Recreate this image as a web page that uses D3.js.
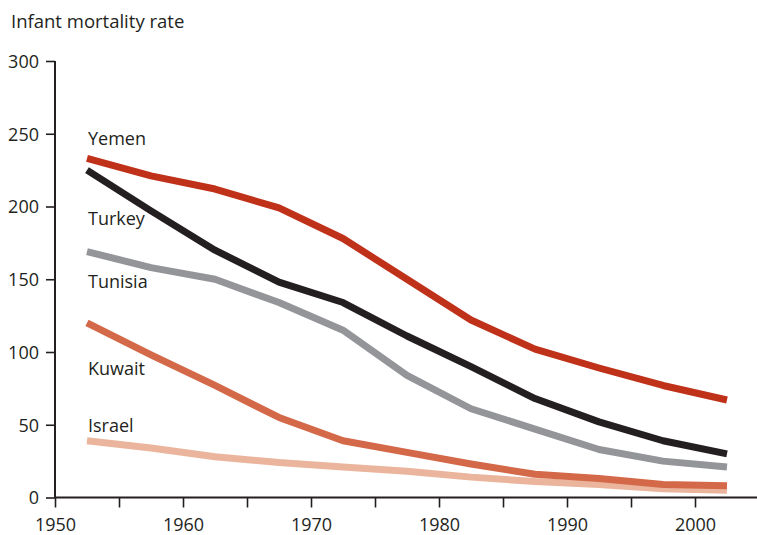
<!DOCTYPE html>
<html>
<head>
<meta charset="utf-8">
<script src="https://cdn.jsdelivr.net/npm/d3@7"></script>
<style>
  html, body { margin: 0; padding: 0; background: #fff; }
  svg { display: block; }
  text { font-family: "Open Sans", "Lato", sans-serif; fill: #231f20; }
</style>
</head>
<body>
<svg id="chart" width="757" height="535"></svg>
<script>
const years = [1952.5, 1957.5, 1962.5, 1967.5, 1972.5, 1977.5, 1982.5, 1987.5, 1992.5, 1997.5, 2002.5];
const countries = ["Yemen", "Turkey", "Tunisia", "Kuwait", "Israel"];
const yemen   = [233, 221, 212, 199, 178, 150, 122, 102, 89, 77, 67];
const turkey  = [225, 197, 170, 148, 134, 111, 90, 68, 52, 39, 30];
const tunisia = [169, 158, 150, 134, 115, 84, 61, 47, 33, 25, 21];
const kuwait  = [120, 98, 77, 55, 39, 31, 23, 16, 13, 9, 8];
const israel  = [39, 34, 28, 24, 21, 18, 14, 11, 9, 6, 5];
const yTicks = [0, 50, 100, 150, 200, 250, 300];
const xMajor = [1950, 1960, 1970, 1980, 1990, 2000];
const xMinor = [1955, 1965, 1975, 1985, 1995];
const colors = ["#c0311a", "#231f20", "#939598", "#d4694a", "#eab59c"];
const title = "Infant mortality rate";

const seriesValues = [yemen, turkey, tunisia, kuwait, israel];
// label vertical offsets (pixels) relative to first point
const labelDy = [-13, 55, 36, 52, -9];

const svg = d3.select("#chart");
const x = d3.scaleLinear().domain([1950, 2005]).range([55, 759]);
const y = d3.scaleLinear().domain([0, 300]).range([497.5, 61]);

svg.append("text").attr("x", 11).attr("y", 28).attr("font-size", 18.5).text(title);

// y axis
const yAxis = svg.append("g").attr("transform", "translate(55,0)")
  .call(d3.axisLeft(y).tickValues(yTicks).tickSize(9).tickPadding(7).tickFormat(d3.format("d")));
yAxis.select(".domain").attr("d", `M0,${y(300)}V${y(0)}`);
// x axis
const xAxis = svg.append("g").attr("transform", `translate(0,${y(0)})`)
  .call(d3.axisBottom(x).tickValues(xMajor.concat(xMinor)).tickSize(10).tickPadding(11)
    .tickFormat(d => xMajor.includes(d) ? d : ""));
xAxis.select(".domain").attr("d", `M55,0H757`);

[yAxis, xAxis].forEach(g => {
  g.select(".domain").attr("stroke", "#231f20").attr("stroke-width", 2).attr("fill", "none");
  g.selectAll(".tick line").attr("stroke", "#231f20").attr("stroke-width", 1.6);
  g.selectAll(".tick text").attr("font-size", 18).attr("fill", "#231f20")
    .attr("font-family", '"Open Sans", "Lato", sans-serif');
});
yAxis.selectAll(".tick text").attr("dy", "0.36em");

const line = d3.line().x((d, i) => x(years[i])).y(d => y(d));

// draw from bottom to top so Yemen on top
for (let k = countries.length - 1; k >= 0; k--) {
  svg.append("path")
    .datum(seriesValues[k])
    .attr("d", line)
    .attr("fill", "none")
    .attr("stroke", colors[k])
    .attr("stroke-width", 7)
    .attr("stroke-linejoin", "round")
    .attr("stroke-linecap", "butt");
}

countries.forEach((c, k) => {
  svg.append("text")
    .attr("x", x(years[0]) + 1)
    .attr("y", y(seriesValues[k][0]) + labelDy[k])
    .attr("font-size", 18)
    .text(c);
});
</script>
</body>
</html>
